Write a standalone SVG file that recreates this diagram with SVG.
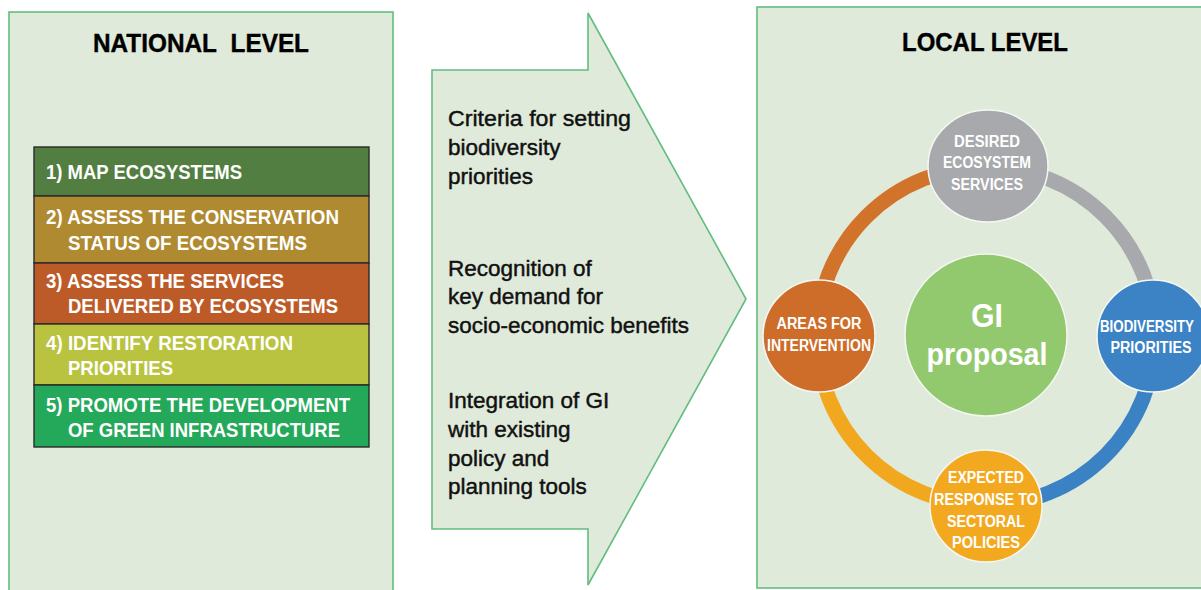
<svg xmlns="http://www.w3.org/2000/svg" width="1201" height="590" viewBox="0 0 1201 590">
  <style>
    .panel { fill: #dfeada; stroke: #62bd7f; stroke-width: 1.6; }
    .title { font-family: "Liberation Sans", Arial, sans-serif; font-weight: bold; font-size: 26px; fill: #000; stroke: #000; stroke-width: 0.4; }
    .step { stroke: #2a2a2a; stroke-width: 1.4; }
    .steptxt { font-family: "Liberation Sans", Arial, sans-serif; font-weight: bold; font-size: 19.5px; fill: #fff; }
    .crit { font-family: "Liberation Sans", Arial, sans-serif; font-size: 22.5px; fill: #111; stroke: #111; stroke-width: 0.45; }
    .ring { fill: none; stroke-width: 15; }
    .node { stroke: #f4f7f2; stroke-width: 1.5; }
    .ntxt { font-family: "Liberation Sans", Arial, sans-serif; font-weight: bold; font-size: 16px; fill: #fff; text-anchor: middle; }
    .gitxt { font-family: "Liberation Sans", Arial, sans-serif; font-weight: bold; fill: #fff; text-anchor: middle; }
  </style>

  <rect width="1201" height="590" fill="#ffffff"/>

  <!-- National level panel -->
  <g id="national-level">
    <rect class="panel" x="9" y="12" width="384" height="600"/>
    <text class="title" x="93" y="52" textLength="216" lengthAdjust="spacingAndGlyphs">NATIONAL&#160; LEVEL</text>
  </g>

  <!-- Five national steps -->
  <g id="step-1">
    <rect class="step" x="34" y="147" width="335" height="49" fill="#527f41"/>
    <text class="steptxt" x="46" y="179" textLength="196" lengthAdjust="spacingAndGlyphs">1) MAP ECOSYSTEMS</text>
  </g>
  <g id="step-2">
    <rect class="step" x="34" y="196" width="335" height="67" fill="#b08a31"/>
    <text class="steptxt" x="46" y="224" textLength="293" lengthAdjust="spacingAndGlyphs">2) ASSESS THE CONSERVATION</text>
    <text class="steptxt" x="68" y="250" textLength="239" lengthAdjust="spacingAndGlyphs">STATUS OF ECOSYSTEMS</text>
  </g>
  <g id="step-3">
    <rect class="step" x="34" y="263" width="335" height="61" fill="#bd5b28"/>
    <text class="steptxt" x="46" y="288" textLength="238" lengthAdjust="spacingAndGlyphs">3) ASSESS THE SERVICES</text>
    <text class="steptxt" x="68" y="313" textLength="270" lengthAdjust="spacingAndGlyphs">DELIVERED BY ECOSYSTEMS</text>
  </g>
  <g id="step-4">
    <rect class="step" x="34" y="324" width="335" height="61" fill="#b9c33f"/>
    <text class="steptxt" x="46" y="350" textLength="247" lengthAdjust="spacingAndGlyphs">4) IDENTIFY RESTORATION</text>
    <text class="steptxt" x="68" y="375" textLength="105" lengthAdjust="spacingAndGlyphs">PRIORITIES</text>
  </g>
  <g id="step-5">
    <rect class="step" x="34" y="385" width="335" height="62" fill="#24a85a"/>
    <text class="steptxt" x="46" y="412" textLength="304" lengthAdjust="spacingAndGlyphs">5) PROMOTE THE DEVELOPMENT</text>
    <text class="steptxt" x="68" y="437" textLength="272" lengthAdjust="spacingAndGlyphs">OF GREEN INFRASTRUCTURE</text>
  </g>

  <!-- Transfer arrow with criteria -->
  <g id="criteria-arrow">
    <polygon class="panel" points="432,70 588,70 588,13 746,299 588,585 588,529 432,529"/>
    <text class="crit" x="448" y="126" textLength="183" lengthAdjust="spacingAndGlyphs">Criteria for setting</text>
    <text class="crit" x="448" y="155">biodiversity</text>
    <text class="crit" x="448" y="184">priorities</text>
    <text class="crit" x="448" y="276">Recognition of</text>
    <text class="crit" x="448" y="304">key demand for</text>
    <text class="crit" x="448" y="333" textLength="241" lengthAdjust="spacingAndGlyphs">socio-economic benefits</text>
    <text class="crit" x="448" y="408">Integration of GI</text>
    <text class="crit" x="448" y="437">with existing</text>
    <text class="crit" x="448" y="466">policy and</text>
    <text class="crit" x="448" y="494">planning tools</text>
  </g>

  <!-- Local level panel -->
  <g id="local-level">
    <rect class="panel" x="757" y="7" width="470" height="581"/>
    <text class="title" x="902" y="51" textLength="166" lengthAdjust="spacingAndGlyphs">LOCAL LEVEL</text>
  </g>

  <!-- Cycle ring linking the local nodes -->
  <g id="connectors">
    <path class="ring" stroke="#d2732b" d="M 817 336 A 169 169 0 0 1 986 167"/>
    <path class="ring" stroke="#a7a9ac" d="M 986 167 A 169 169 0 0 1 1155 336"/>
    <path class="ring" stroke="#3a82c4" d="M 1155 336 A 169 169 0 0 1 986 505"/>
    <path class="ring" stroke="#f2a81e" d="M 986 505 A 169 169 0 0 1 817 336"/>
  </g>

  <g id="gi-proposal">
    <circle class="node" cx="986" cy="335" r="81" fill="#93c96e"/>
    <text class="gitxt" x="987" y="327" font-size="33" textLength="32" lengthAdjust="spacingAndGlyphs">GI</text>
    <text class="gitxt" x="987" y="365" font-size="32" textLength="121" lengthAdjust="spacingAndGlyphs">proposal</text>
  </g>

  <g id="desired-ecosystem-services">
    <ellipse class="node" cx="988" cy="166" rx="60" ry="56" fill="#a7a9ac"/>
    <text class="ntxt" x="987" y="147" textLength="66" lengthAdjust="spacingAndGlyphs">DESIRED</text>
    <text class="ntxt" x="987" y="168" textLength="88" lengthAdjust="spacingAndGlyphs">ECOSYSTEM</text>
    <text class="ntxt" x="987" y="190" textLength="72" lengthAdjust="spacingAndGlyphs">SERVICES</text>
  </g>

  <g id="areas-for-intervention">
    <circle class="node" cx="819" cy="336" r="56" fill="#cd6d29"/>
    <text class="ntxt" x="819" y="329" textLength="85" lengthAdjust="spacingAndGlyphs">AREAS FOR</text>
    <text class="ntxt" x="819" y="351" textLength="104" lengthAdjust="spacingAndGlyphs">INTERVENTION</text>
  </g>

  <g id="biodiversity-priorities">
    <circle class="node" cx="1153" cy="336" r="56" fill="#3b83c5"/>
    <text class="ntxt" x="1147" y="332" textLength="94" lengthAdjust="spacingAndGlyphs">BIODIVERSITY</text>
    <text class="ntxt" x="1151" y="353" textLength="81" lengthAdjust="spacingAndGlyphs">PRIORITIES</text>
  </g>

  <g id="expected-response">
    <circle class="node" cx="986" cy="506" r="56" fill="#f3a91f"/>
    <text class="ntxt" x="986" y="483" textLength="76" lengthAdjust="spacingAndGlyphs">EXPECTED</text>
    <text class="ntxt" x="986" y="505" textLength="104" lengthAdjust="spacingAndGlyphs">RESPONSE TO</text>
    <text class="ntxt" x="986" y="527" textLength="78" lengthAdjust="spacingAndGlyphs">SECTORAL</text>
    <text class="ntxt" x="986" y="548" textLength="68" lengthAdjust="spacingAndGlyphs">POLICIES</text>
  </g>
</svg>
